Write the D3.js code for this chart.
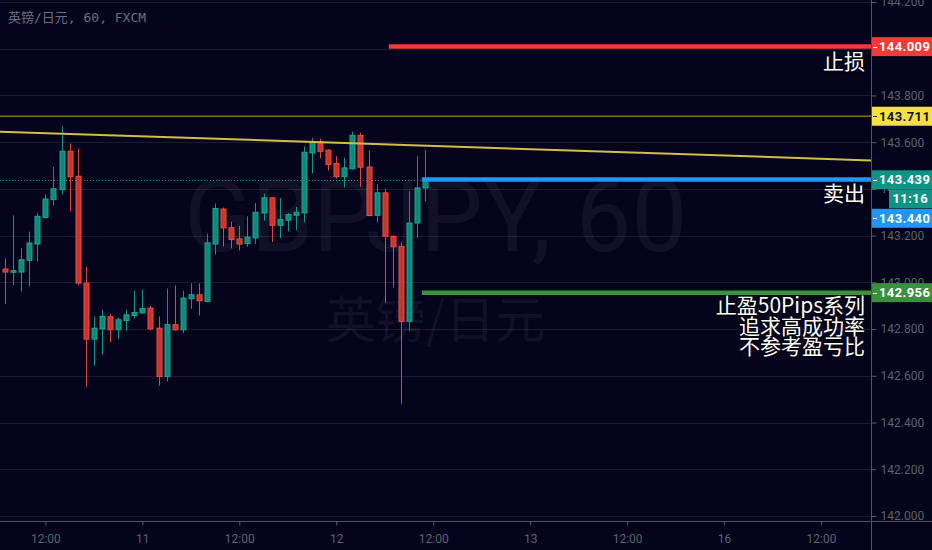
<!DOCTYPE html>
<html><head><meta charset="utf-8">
<script src="https://cdn.jsdelivr.net/npm/d3@7"></script>
<style>
html,body{margin:0;padding:0;background:#04041d;overflow:hidden;}
svg{display:block;}
.ann{font-family:"Noto Sans CJK SC","Noto Sans",sans-serif;font-size:21px;fill:#ffffff;text-shadow:-1px 1px 0 #000,-1px 1px 2px #000;}
</style></head><body>
<svg id="c" width="932" height="550"></svg>
<script>
// ---- data (GBPJPY 60 min, FXCM) ----
const candleOpen  = [143.057,143.043,143.044,143.094,143.164,143.278,143.354,143.397,143.561,143.454,142.997,142.757,142.801,142.853,142.797,142.837,142.858,142.869,142.890,142.804,142.597,142.819,142.797,142.930,142.947,142.918,143.164,143.314,143.234,143.186,143.166,143.190,143.297,143.362,143.244,143.266,143.287,143.297,143.554,143.600,143.566,143.509,143.452,143.486,143.629,143.494,143.287,143.383,143.197,143.154,142.833,143.254,143.404];
const candleHigh  = [143.101,143.286,143.146,143.217,143.297,143.376,143.494,143.668,143.594,143.572,143.066,142.854,142.882,142.864,142.850,142.882,142.964,142.969,142.900,142.854,142.973,142.987,142.964,142.996,142.996,143.209,143.337,143.320,143.260,143.243,143.283,143.340,143.380,143.366,143.362,143.297,143.323,143.583,143.617,143.614,143.569,143.540,143.534,143.646,143.640,143.566,143.419,143.401,143.201,143.171,143.390,143.540,143.566];
const candleLow   = [142.907,142.987,142.961,142.983,143.090,143.273,143.329,143.376,143.304,142.987,142.554,142.643,142.690,142.744,142.757,142.793,142.846,142.866,142.794,142.557,142.576,142.793,142.783,142.887,142.858,142.914,143.119,143.154,143.146,143.137,143.152,143.164,143.264,143.173,143.190,143.218,143.223,143.257,143.466,143.530,143.479,143.444,143.407,143.483,143.409,143.283,143.257,142.912,142.978,142.480,142.793,143.190,143.347];
const candleClose = [143.044,143.050,143.097,143.169,143.283,143.357,143.401,143.561,143.452,142.997,142.757,142.804,142.854,142.797,142.840,142.861,142.871,142.888,142.801,142.597,142.819,142.797,142.933,142.947,142.921,143.169,143.316,143.233,143.183,143.164,143.194,143.300,143.362,143.244,143.269,143.290,143.300,143.557,143.600,143.561,143.504,143.452,143.490,143.629,143.493,143.286,143.383,143.197,143.152,142.833,143.254,143.404,143.439];

const xTickIndex  = [5,17,29,41,53,65,77,89,101];
const xTickLabels = ["12:00","11","12:00","12","12:00","13","12:00","16","12:00"];
const yTickValues = [142.0,142.2,142.4,142.6,142.8,143.0,143.2,143.4,143.6,143.8,144.0,144.2];

const stopLoss = 144.009, resistance = 143.711, lastPrice = 143.439, entryPrice = 143.440, takeProfit = 142.956;
const countdown = "11:16";
const stopStartIdx = 47.5, entryStartIdx = 51.6;
const trendIdx = [-0.62, 107.2], trendPrice = [143.645, 143.522];

const headerText = "英镑/日元, 60, FXCM";
const watermark1 = "GBPJPY, 60", watermark2 = "英镑/日元";
const annStop = "止损", annEntry = "卖出";
const annTarget = ["止盈50Pips系列","追求高成功率","不参考盈亏比"];

// ---- layout ----
const W = 932, H = 550, plotR = 871, plotB = 521;
const svg = d3.select("#c");
const x = d3.scaleLinear().domain([0,101]).range([5,821]);
const y = d3.scaleLinear().domain([142.0,144.2]).range([516,2]);

svg.append("rect").attr("width",W).attr("height",H).attr("fill","#04041d");

// grid
svg.append("g").selectAll("line").data(yTickValues).join("line")
  .attr("x1",0).attr("x2",plotR).attr("y1",d=>Math.round(y(d))+0.5).attr("y2",d=>Math.round(y(d))+0.5)
  .attr("stroke","#1b1b2f").attr("stroke-width",1);

// watermark
svg.append("text").text(watermark1).attr("x",184).attr("y",251)
  .attr("textLength",503).attr("lengthAdjust","spacingAndGlyphs")
  .attr("font-family","Roboto, 'Liberation Sans', sans-serif").attr("font-size",100)
  .attr("fill","#ffffff").attr("fill-opacity",0.05);
svg.append("text").text(watermark2).attr("x",435.5).attr("y",338).attr("text-anchor","middle")
  .attr("font-family","'Noto Sans CJK SC', sans-serif").attr("font-size",50)
  .attr("fill","#ffffff").attr("fill-opacity",0.05);

// header
svg.append("text").text(headerText).attr("x",8).attr("y",22)
  .attr("font-family","'DejaVu Sans Mono','Noto Sans CJK SC',monospace").attr("font-size",13)
  .attr("fill","#6c6f7e");

// resistance level line
svg.append("line").attr("x1",0).attr("x2",plotR).attr("y1",y(resistance)).attr("y2",y(resistance))
  .attr("stroke","#7d6f2a").attr("stroke-width",1.5);

// current price dotted line
svg.append("line").attr("x1",0).attr("x2",plotR).attr("y1",Math.round(y(lastPrice))+0.5).attr("y2",Math.round(y(lastPrice))+0.5)
  .attr("stroke","#16a08f").attr("stroke-width",1).attr("stroke-dasharray","1,2");

// candles
const data = candleOpen.map((o,i)=>({i,o,h:candleHigh[i],l:candleLow[i],c:candleClose[i]}));
const up = d=>d.c>=d.o;
const g = svg.append("g");
g.selectAll("line.w").data(data).join("line").attr("class","w")
  .attr("x1",d=>Math.round(x(d.i))+0.5).attr("x2",d=>Math.round(x(d.i))+0.5)
  .attr("y1",d=>y(d.h)).attr("y2",d=>y(d.l))
  .attr("stroke",d=>up(d)?"#129485":"#e3433a").attr("stroke-width",1);
g.selectAll("rect.b").data(data).join("rect").attr("class","b")
  .attr("x",d=>Math.round(x(d.i))-2)
  .attr("width",5)
  .attr("y",d=>y(Math.max(d.o,d.c)))
  .attr("height",d=>Math.max(1,Math.abs(y(d.o)-y(d.c))))
  .attr("fill",d=>up(d)?"#0c8a7c":"#c8352e")
  .attr("stroke",d=>up(d)?"#1aa593":"#f24a3f").attr("stroke-width",1);

// trend line
svg.append("line").attr("x1",x(trendIdx[0])).attr("x2",x(trendIdx[1]))
  .attr("y1",y(trendPrice[0])).attr("y2",y(trendPrice[1]))
  .attr("stroke","#d2bf45").attr("stroke-width",2);

// trade levels
svg.append("line").attr("x1",x(stopStartIdx)).attr("x2",plotR).attr("y1",y(stopLoss)).attr("y2",y(stopLoss))
  .attr("stroke","#f23a36").attr("stroke-width",4.5);
svg.append("line").attr("x1",x(entryStartIdx)).attr("x2",plotR).attr("y1",y(entryPrice)).attr("y2",y(entryPrice))
  .attr("stroke","#2196f3").attr("stroke-width",4.5);
svg.append("line").attr("x1",x(entryStartIdx)).attr("x2",plotR).attr("y1",y(takeProfit)).attr("y2",y(takeProfit))
  .attr("stroke","#3a923b").attr("stroke-width",4.5);

// annotations
svg.append("text").attr("class","ann").attr("x",865).attr("y",y(stopLoss)+22).attr("text-anchor","end").text(annStop);
svg.append("text").attr("class","ann").attr("x",865).attr("y",y(entryPrice)+21).attr("text-anchor","end").text(annEntry);
annTarget.forEach((t,k)=>{
  svg.append("text").attr("class","ann").attr("x",865).attr("y",y(takeProfit)+20.5+k*20.5).attr("text-anchor","end").text(t);
});

// right axis
svg.append("rect").attr("x",plotR).attr("y",0).attr("width",W-plotR).attr("height",H).attr("fill","#04041d");
const yAxis = d3.axisRight(y).tickValues(yTickValues).tickFormat(d3.format(".3f")).tickSize(5).tickPadding(4);
const ya = svg.append("g").attr("transform",`translate(${plotR+0.5},0)`).call(yAxis);
ya.select(".domain").remove();
ya.selectAll("line").attr("stroke","#55586a");
ya.selectAll("text").attr("fill","#5e6170").attr("font-family","Roboto, sans-serif").attr("font-size",12);
// label fully covered by the stop-loss price box
ya.selectAll(".tick").filter(d=>Math.abs(d-144.0)<1e-6).select("text").remove();

// bottom axis
const xAxis = d3.axisBottom(x).tickValues(xTickIndex).tickFormat((d,k)=>xTickLabels[k]).tickSize(4).tickPadding(9);
const xa = svg.append("g").attr("transform",`translate(0,${plotB+0.5})`).call(xAxis);
xa.select(".domain").remove();
xa.selectAll("line").attr("stroke","#55586a");
xa.selectAll("text").attr("fill","#5e6170").attr("font-family","Roboto, sans-serif").attr("font-size",12);

svg.append("line").attr("x1",0).attr("x2",W).attr("y1",plotB+0.5).attr("y2",plotB+0.5).attr("stroke","#50525f");
svg.append("line").attr("x1",plotR+0.5).attr("x2",plotR+0.5).attr("y1",0).attr("y2",H).attr("stroke","#50525f");

// price label boxes
function priceBox(cy, text, bg, fg, x0){
  x0 = x0 || plotR+1;
  const h = 19;
  svg.append("rect").attr("x",x0).attr("y",cy-h/2).attr("width",W-x0).attr("height",h).attr("fill",bg);
  if(x0===plotR+1){
    svg.append("line").attr("x1",x0+1).attr("x2",x0+5).attr("y1",Math.round(cy)+0.5).attr("y2",Math.round(cy)+0.5).attr("stroke",fg);
  }
  svg.append("text").attr("x",x0===plotR+1?879:W-4).attr("y",cy+4.5).attr("text-anchor",x0===plotR+1?"start":"end")
    .attr("fill",fg).attr("font-family","Roboto, sans-serif").attr("font-size",13).attr("font-weight","bold")
    .attr("letter-spacing",0.4).text(text);
}
const fmt = d3.format(".3f");
priceBox(y(stopLoss), fmt(stopLoss), "#f23b39", "#ffffff");
priceBox(y(resistance), fmt(resistance), "#f5e23e", "#111111");
priceBox(y(takeProfit), fmt(takeProfit), "#3b903d", "#ffffff");
const cyLast = y(lastPrice);
priceBox(cyLast, fmt(lastPrice), "#0d9485", "#ffffff");
priceBox(cyLast+19, countdown, "#0d9485", "#ffffff", 889);
priceBox(cyLast+38.5, fmt(entryPrice), "#2196f3", "#ffffff");
</script>
</body></html>
